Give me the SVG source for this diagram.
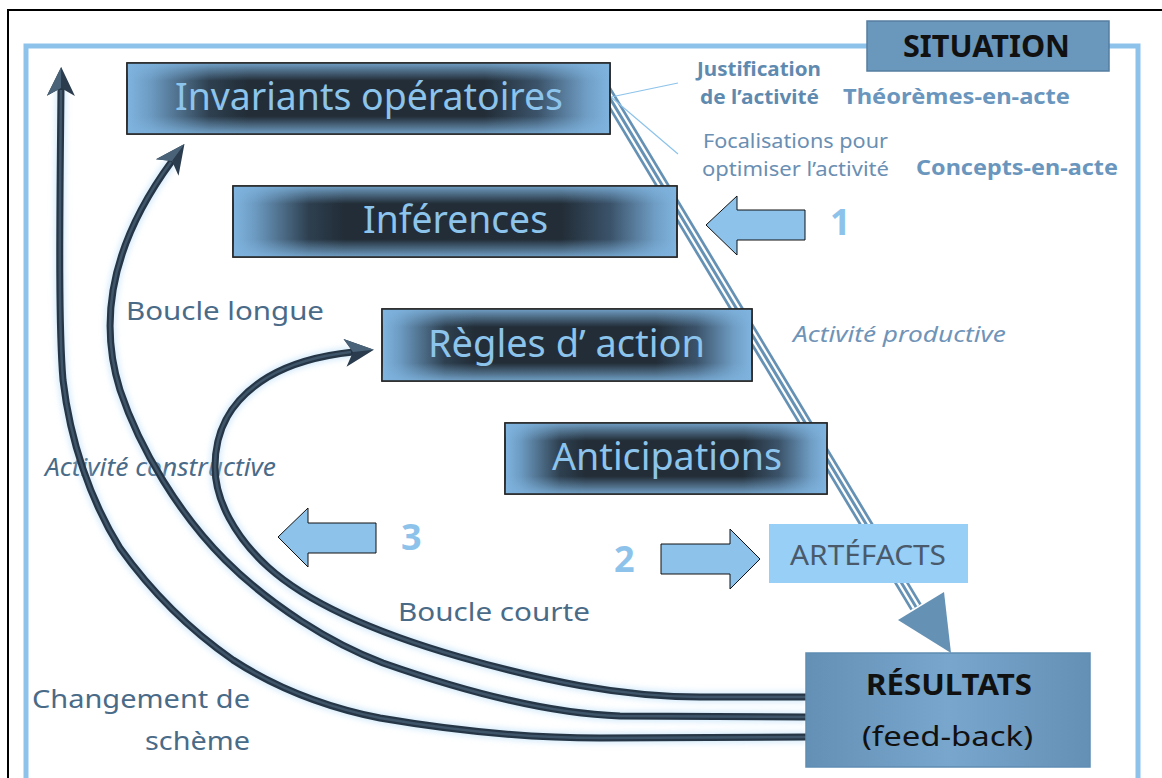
<svg xmlns="http://www.w3.org/2000/svg" width="1162" height="778" viewBox="0 0 1162 778">
<defs>
<style>
.t{font-family:"Noto Sans","Open Sans","DejaVu Sans",sans-serif}
.box{stroke:#262626;stroke-width:1.5}
.ttl{font-size:38px;fill:#8DC4EC}
.num{font-size:36px;font-weight:bold;fill:#8DC3EB}
.lbl{font-size:26px;fill:#4A6B88}
.st{font-size:19px;fill:#5F8AB0;font-weight:bold}
.sr{font-size:19px;fill:#6A8FB3}
.big{font-size:22px;fill:#6A96BE;font-weight:bold}
.fat{fill:#8DC3EB;stroke:#111;stroke-width:1}
.tube{fill:none;stroke:#263646;stroke-width:7;stroke-linejoin:round}
.tubein{fill:none;stroke:#3E556A;stroke-width:2.5}
.glow{fill:none;stroke:#A8D5F6;stroke-width:10;opacity:.55}
</style>
<linearGradient id="gh" x1="0" y1="0" x2="1" y2="0">
<stop offset="0" stop-color="#80B5E0"/>
<stop offset="0.05" stop-color="#6C9AC1"/>
<stop offset="0.17" stop-color="#2E4050"/>
<stop offset="0.25" stop-color="#222D37"/>
<stop offset="0.74" stop-color="#222D37"/>
<stop offset="0.85" stop-color="#3B536A"/>
<stop offset="0.95" stop-color="#6F9DC4"/>
<stop offset="1" stop-color="#80B5E0"/>
</linearGradient>
<linearGradient id="gv" x1="0" y1="0" x2="0" y2="1">
<stop offset="0" stop-color="#7FB4DF" stop-opacity="0.85"/>
<stop offset="0.1" stop-color="#7FB4DF" stop-opacity="0.5"/>
<stop offset="0.25" stop-color="#7FB4DF" stop-opacity="0"/>
<stop offset="0.75" stop-color="#7FB4DF" stop-opacity="0"/>
<stop offset="0.9" stop-color="#7FB4DF" stop-opacity="0.5"/>
<stop offset="1" stop-color="#7FB4DF" stop-opacity="0.85"/>
</linearGradient>
<linearGradient id="gr" x1="0" y1="0" x2="1" y2="0">
<stop offset="0" stop-color="#6590B6"/>
<stop offset="0.5" stop-color="#78A6CC"/>
<stop offset="1" stop-color="#6590B6"/>
</linearGradient>
<filter id="blur" x="-10%" y="-10%" width="120%" height="120%"><feGaussianBlur stdDeviation="3"/></filter>
<marker id="head" viewBox="-30 -16 32 32" refX="-21" refY="0" markerWidth="32" markerHeight="32" markerUnits="userSpaceOnUse" orient="auto">
<path d="M0 0 L-29 -14 L-21 0 L-29 14 Z" fill="#2A3C4D"/>
<path d="M0 0 L-29 -14 L-21 0 Z" fill="#4A6378"/>
</marker>
</defs>
<rect width="1162" height="778" fill="#fff"/>
<rect x="8" y="10" width="1170" height="800" fill="none" stroke="#000" stroke-width="2"/>
<path d="M26 800 V46 H1138 V800" fill="none" stroke="#8DC3EB" stroke-width="5"/>

<g id="situation">
<rect x="867" y="21" width="242" height="50" fill="#6A97BC" stroke="#557DA0" stroke-width="1.5"/>
<text class="t" x="903" y="57" font-size="31" font-weight="bold" fill="#111" textLength="167" lengthAdjust="spacingAndGlyphs">SITUATION</text>
</g>

<g id="labels">
<text class="t st" x="697" y="76" textLength="124" lengthAdjust="spacingAndGlyphs">Justification</text>
<text class="t st" x="700" y="104" textLength="119" lengthAdjust="spacingAndGlyphs">de l’activité</text>
<text class="t big" x="843" y="104" textLength="227" lengthAdjust="spacingAndGlyphs">Théorèmes-en-acte</text>
<text class="t sr" x="703" y="148" textLength="185" lengthAdjust="spacingAndGlyphs">Focalisations pour</text>
<text class="t sr" x="702" y="176" textLength="187" lengthAdjust="spacingAndGlyphs">optimiser l’activité</text>
<text class="t big" x="916" y="175" textLength="202" lengthAdjust="spacingAndGlyphs">Concepts-en-acte</text>
<text class="t num" x="830" y="235">1</text>
<text class="t" x="793" y="342" font-size="21" font-style="italic" fill="#7094B8" textLength="213" lengthAdjust="spacingAndGlyphs">Activité productive</text>
<text class="t num" x="614" y="572">2</text>
<text class="t num" x="401" y="550">3</text>
<text class="t lbl" x="126" y="320" textLength="198" lengthAdjust="spacingAndGlyphs">Boucle longue</text>
<text class="t lbl" x="45" y="476" font-size="22" font-style="italic" textLength="231" lengthAdjust="spacingAndGlyphs">Activité constructive</text>
<text class="t lbl" x="398" y="621" textLength="192" lengthAdjust="spacingAndGlyphs">Boucle courte</text>
<text class="t lbl" x="32" y="708" textLength="218" lengthAdjust="spacingAndGlyphs">Changement de</text>
<text class="t lbl" x="145" y="750" textLength="105" lengthAdjust="spacingAndGlyphs">schème</text>
</g>

<g id="connectors">
<g filter="url(#blur)">
<path class="glow" d="M806 737 L600 738 C520 738 450 730 380 718 C320 706 270 684 233 660 C190 630 150 590 120 548 C90 500 70 440 63 380 C58 320 60 200 61 88"/>
<path class="glow" d="M806 717 L620 716 C560 714 480 697 383 663 C330 643 270 605 225 560 C180 515 140 450 120 390 C95 310 119 233 172 161"/>
<path class="glow" d="M806 697 L700 697 C620 697 540 680 460 657 C380 634 310 605 268 567 C235 537 215 500 215 467 C215 430 230 400 268 377 C295 361 325 355 353 352"/>
</g>
<path class="tube" marker-end="url(#head)" d="M806 737 L600 738 C520 738 450 730 380 718 C320 706 270 684 233 660 C190 630 150 590 120 548 C90 500 70 440 63 380 C58 320 60 200 61 88"/>
<path class="tube" marker-end="url(#head)" d="M806 717 L620 716 C560 714 480 697 383 663 C330 643 270 605 225 560 C180 515 140 450 120 390 C95 310 119 233 172 161"/>
<path class="tube" marker-end="url(#head)" d="M806 697 L700 697 C620 697 540 680 460 657 C380 634 310 605 268 567 C235 537 215 500 215 467 C215 430 230 400 268 377 C295 361 325 355 353 352"/>
<path class="tubein" d="M806 737 L600 738 C520 738 450 730 380 718 C320 706 270 684 233 660 C190 630 150 590 120 548 C90 500 70 440 63 380 C58 320 60 200 61 90"/>
<path class="tubein" d="M806 717 L620 716 C560 714 480 697 383 663 C330 643 270 605 225 560 C180 515 140 450 120 390 C95 310 119 233 171 162"/>
<path class="tubein" d="M806 697 L700 697 C620 697 540 680 460 657 C380 634 310 605 268 567 C235 537 215 500 215 467 C215 430 230 400 268 377 C295 361 325 355 351 352"/>
<path d="M605 90 L916 607" stroke="#6591B5" stroke-width="13" fill="none"/>
<path d="M605 90 L916 607" stroke="#fff" stroke-width="7.5" fill="none"/>
<path d="M605 90 L916 607" stroke="#6591B5" stroke-width="3" fill="none"/>
<polygon points="898,620 944,592 951,653" fill="#6591B5"/>
<path d="M611 97 L678 83 M611 97 L678 154" stroke="#8DC3EB" stroke-width="1.2" fill="none"/>
<polygon class="fat" points="706,225 737,196 737,210 805,210 805,240 737,240 737,255"/>
<polygon class="fat" points="278,537 308,508 308,523 376,523 376,553 308,553 308,567"/>
<polygon class="fat" points="661,544 730,544 730,529 760,559 730,589 730,574 661,574"/>
</g>

<g id="invariants">
<rect class="box" x="127" y="63" width="483" height="71" fill="url(#gh)"/>
<rect x="127" y="63" width="483" height="71" fill="url(#gv)"/>
<rect class="box" x="127" y="63" width="483" height="71" fill="none"/>
<text class="t ttl" x="175" y="110" textLength="388" lengthAdjust="spacingAndGlyphs">Invariants opératoires</text>
</g>
<g id="inferences">
<rect class="box" x="233" y="186" width="444" height="71" fill="url(#gh)"/>
<rect x="233" y="186" width="444" height="71" fill="url(#gv)"/>
<rect class="box" x="233" y="186" width="444" height="71" fill="none"/>
<text class="t ttl" x="363" y="233" textLength="185" lengthAdjust="spacingAndGlyphs">Inférences</text>
</g>
<g id="regles">
<rect class="box" x="382" y="309" width="370" height="72" fill="url(#gh)"/>
<rect x="382" y="309" width="370" height="72" fill="url(#gv)"/>
<rect class="box" x="382" y="309" width="370" height="72" fill="none"/>
<text class="t ttl" x="428" y="357" textLength="277" lengthAdjust="spacingAndGlyphs">Règles d’ action</text>
</g>
<g id="anticipations">
<rect class="box" x="505" y="423" width="322" height="71" fill="url(#gh)"/>
<rect x="505" y="423" width="322" height="71" fill="url(#gv)"/>
<rect class="box" x="505" y="423" width="322" height="71" fill="none"/>
<text class="t ttl" x="552" y="470" textLength="230" lengthAdjust="spacingAndGlyphs">Anticipations</text>
</g>
<g id="artefacts">
<rect x="769" y="524" width="199" height="59" fill="#97CFF7"/>
<text class="t" x="790" y="565" font-size="27" fill="#4A5A6A" textLength="156" lengthAdjust="spacingAndGlyphs">ARTÉFACTS</text>
</g>
<g id="resultats">
<rect x="806" y="653" width="284" height="114" fill="url(#gr)" stroke="#5F8DB3" stroke-width="1.5"/>
<text class="t" x="866" y="695" font-size="28" font-weight="bold" fill="#111" textLength="166" lengthAdjust="spacingAndGlyphs">RÉSULTATS</text>
<text class="t" x="862" y="746" font-size="28" fill="#111" textLength="171" lengthAdjust="spacingAndGlyphs">(feed-back)</text>
</g>
</svg>
